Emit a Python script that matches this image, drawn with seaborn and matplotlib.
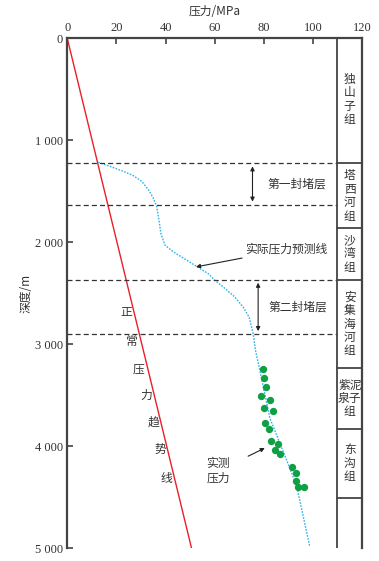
import matplotlib
matplotlib.use("Agg")
import matplotlib.pyplot as plt
import seaborn as sns
import pandas as pd

# --- données ---
normal_p = [0, 50.6]
normal_d = [0, 5000]

pred_p = [12.6, 17.4, 22.8, 26.9, 30.3, 33.0, 35.0, 36.4, 37.3, 38.1, 39.7, 43.1,
          48.6, 54.0, 57.4, 60.0, 63.5, 68.2, 71.6, 74.0, 75.7, 76.6, 79.1, 82.5,
          87.9, 93.3, 98.7]
pred_d = [1214, 1254, 1303, 1345, 1401, 1483, 1566, 1648, 1779, 1911, 2025, 2092,
          2174, 2256, 2306, 2370, 2437, 2535, 2634, 2732, 2896, 3056, 3335, 3725,
          4050, 4380, 4980]

meas_p = [79.8, 80.2, 80.7, 78.9, 82.5, 79.9, 83.8, 80.4, 82.2, 82.9, 85.8, 84.5,
          86.5, 91.5, 93.3, 93.0, 94.0, 96.4]
meas_d = [3242, 3333, 3418, 3506, 3549, 3624, 3657, 3772, 3827, 3948, 3974, 4037,
          4073, 4199, 4262, 4342, 4402, 4399]

seal_depths = [1224, 1630, 2365, 2900]
form_bounds = [1224, 1862, 2365, 3235, 3826, 4505]
form_names = ["独\n山\n子\n组", "塔\n西\n河\n组", "沙\n湾\n组", "安\n集\n海\n河\n组",
              "紫泥\n泉子\n组", "东\n沟\n组"]
form_centers = [600, 1543, 2113, 2800, 3530, 4165]

trend_chars = ["正", "常", "压", "力", "趋", "势", "线"]
trend_p = [24.0, 26.3, 28.9, 32.0, 35.0, 37.7, 40.4]
trend_d = [2690, 2975, 3242, 3497, 3765, 4030, 4312]

CJK = ["Noto Sans CJK SC", "DejaVu Sans"]
SERIF = ["Liberation Serif", "DejaVu Serif"]
GREY = "#444444"
TXT = "#333333"

sns.set_theme(style="white")
plt.rcParams["font.family"] = CJK

fig = plt.figure(figsize=(3.79, 5.61), dpi=100)
ax = fig.add_axes([0.1776, 0.0226, 0.9552 - 0.1776, 0.9314 - 0.0226])

# ligne de pression normale
sns.lineplot(x=normal_p, y=normal_d, ax=ax, color="#e8202a", lw=1.0, sort=False)
# ligne de prédiction
pred = pd.DataFrame({"p": pred_p, "d": pred_d})
sns.lineplot(data=pred, x="p", y="d", ax=ax, color="#2eb4ec", lw=1.0,
             linestyle=(0, (1.2, 1.0)), sort=False)
# pression mesurée
sns.scatterplot(x=meas_p, y=meas_d, ax=ax, color="#0fa046", s=28, linewidth=0, zorder=5)

# couches de colmatage
for d in seal_depths:
    ax.plot([0, 110], [d, d], color="#333333", lw=0.9, linestyle=(0, (4, 2.5)))

# colonne des formations
ax.plot([110, 110], [0, 5000], color=GREY, lw=1.3)
for d in form_bounds:
    ax.plot([110, 120], [d, d], color=GREY, lw=1.3)
for name, c in zip(form_names, form_centers):
    ax.text(115, c, name, ha="center", va="center", fontsize=8.5, color=TXT,
            linespacing=1.05, family=CJK)

# flèches doubles
ax.annotate("", xy=(75.4, seal_depths[0] + 30), xytext=(75.4, seal_depths[1] - 30),
            arrowprops=dict(arrowstyle="<|-|>", color="#222222", lw=0.8,
                            mutation_scale=6, shrinkA=0, shrinkB=0))
ax.annotate("", xy=(77.7, seal_depths[2] + 30), xytext=(77.7, seal_depths[3] - 30),
            arrowprops=dict(arrowstyle="<|-|>", color="#222222", lw=0.8,
                            mutation_scale=6, shrinkA=0, shrinkB=0))
ax.text(93.5, 1430, "第一封堵层", ha="center", va="center", fontsize=8.5, color=TXT)
ax.text(94.0, 2630, "第二封堵层", ha="center", va="center", fontsize=8.5, color=TXT)

ax.annotate("实际压力预测线", xy=(52.4, 2240), xytext=(72.5, 2070),
            ha="left", va="center", fontsize=8.5, color=TXT,
            arrowprops=dict(arrowstyle="-|>", color="#222222", lw=0.8,
                            mutation_scale=6, shrinkA=0, shrinkB=0))
ax.annotate("实测\n压力", xy=(80.4, 4017), xytext=(61.4, 4240),
            ha="center", va="center", fontsize=8.5, color=TXT, linespacing=1.1,
            arrowprops=dict(arrowstyle="-|>", color="#222222", lw=0.8,
                            mutation_scale=6, shrinkA=-12, shrinkB=0))

for ch, p, d in zip(trend_chars, trend_p, trend_d):
    ax.text(p, d, ch, ha="center", va="center", fontsize=8.5, color=TXT)

# axes
ax.set_xlim(0, 120)
ax.set_ylim(5000, 0)
ax.xaxis.tick_top()
ax.xaxis.set_label_position("top")
ax.set_xticks(range(0, 121, 20))
ax.set_yticks(range(0, 5001, 1000))
ax.set_yticklabels(["0", "1 000", "2 000", "3 000", "4 000", "5 000"])
for lab in ax.get_xticklabels() + ax.get_yticklabels():
    lab.set_family(SERIF)
    lab.set_fontsize(9)
    lab.set_color(TXT)
ax.tick_params(axis="both", direction="in", length=4, width=1.2, color=GREY,
               top=True, bottom=False, left=True, right=False, pad=3)
ax.set_xlabel("压力/MPa", fontsize=8.5, color=TXT, labelpad=5)
ax.set_ylabel("深度/m", fontsize=8.5, color=TXT, labelpad=2)

for s in ["top", "left", "right"]:
    ax.spines[s].set_color(GREY)
    ax.spines[s].set_linewidth(1.6)
ax.spines["bottom"].set_visible(False)
ax.grid(False)

fig.savefig("out.png", dpi=100)
